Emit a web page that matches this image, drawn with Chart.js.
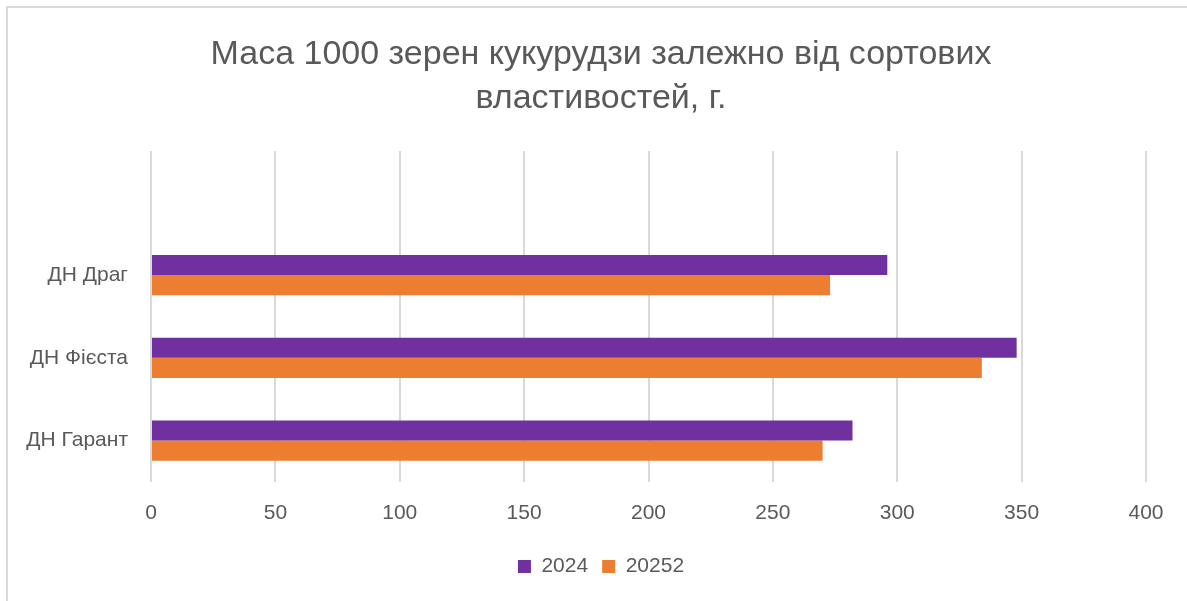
<!DOCTYPE html>
<html>
<head>
<meta charset="utf-8">
<script src="https://cdn.jsdelivr.net/npm/chart.js@4/dist/chart.umd.min.js"></script>
<style>
  html, body { margin: 0; padding: 0; background: #fff; overflow: hidden; }
  #frame {
    position: absolute; left: 6px; top: 6px; width: 1200px; height: 620px;
    border-left: 2px solid #d9d9d9; border-top: 2px solid #d9d9d9;
  }
  #wrap { position: absolute; left: 0; top: 0; width: 1187px; height: 601px; }
</style>
</head>
<body>
<div id="frame"></div>
<div id="wrap"><canvas id="chart"></canvas></div>
<script>
  // Excel leaves an empty category at the top of the plot
  const categories = ['', 'ДН Драг', 'ДН Фієста', 'ДН Гарант'];
  const series2024 = [null, 296, 348, 282];
  const series2025 = [null, 273, 334, 270];
  const seriesNames = ['2024', '20252'];
  const titleLines = ['Маса 1000 зерен кукурудзи залежно від сортових', 'властивостей, г.'];

  const textColor = '#595959';
  const gridColor = '#d9d9d9';
  const font = 'Liberation Sans';

  new Chart(document.getElementById('chart'), {
    type: 'bar',
    data: {
      labels: categories,
      datasets: [
        { label: seriesNames[0], data: series2024, backgroundColor: '#7030A0' },
        { label: seriesNames[1], data: series2025, backgroundColor: '#ED7D31' }
      ]
    },
    options: {
      indexAxis: 'y',
      responsive: true,
      maintainAspectRatio: false,
      animation: false,
      categoryPercentage: 0.485,
      barPercentage: 1,
      layout: { padding: { left: 15, right: 0, top: 0, bottom: 14 } },
      plugins: {
        tooltip: { enabled: false },
        title: {
          display: true,
          text: titleLines,
          color: textColor,
          font: { family: font, size: 34, weight: 'normal', lineHeight: 1.294 },
          padding: { top: 33, bottom: 30 }
        },
        legend: {
          position: 'bottom',
          labels: {
            color: textColor,
            font: { family: font, size: 21 },
            boxWidth: 13,
            boxHeight: 13,
            padding: 14
          }
        }
      },
      scales: {
        x: {
          min: 0,
          max: 400,
          ticks: { stepSize: 50, color: textColor, font: { family: font, size: 21 }, padding: 19 },
          grid: { color: gridColor, lineWidth: 2, drawTicks: false },
          border: { display: false },
          afterFit: s => { s.height = 60; }
        },
        y: {
          ticks: { color: textColor, font: { family: font, size: 21 }, padding: 23 },
          grid: { display: false, drawTicks: false },
          border: { display: false },
          afterFit: s => { s.width = 136; }
        },
        // empty right margin so the title centres like the original
        yRight: {
          type: 'category',
          position: 'right',
          ticks: { display: false },
          grid: { display: false, drawTicks: false },
          border: { display: false },
          afterFit: s => { s.width = 41; }
        }
      }
    }
  });
</script>
</body>
</html>
